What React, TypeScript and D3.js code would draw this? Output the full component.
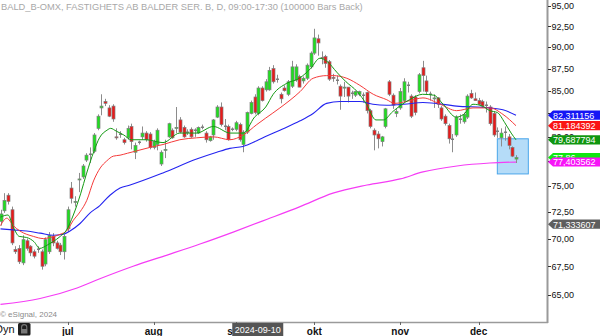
import React from "react";
import * as d3 from "d3";

// ---- data ----
const opens = [71.6,72.6,74.1,72.7,69.0,69.1,67.8,69.8,69.3,68.8,69.0,68.8,67.7,68.8,70.2,69.6,69.4,68.8,70.9,74.8,73.4,75.6,75.9,77.6,78.2,78.5,80.9,83.1,83.8,83.1,83.3,80.0,80.3,79.7,79.9,81.1,78.4,79.4,80.0,80.4,80.3,78.9,79.2,77.2,78.6,80.0,80.7,80.9,81.8,81.0,80.5,80.8,80.7,80.4,81.0,80.4,79.6,80.2,82.1,83.2,81.1,81.1,80.8,80.8,81.3,79.2,80.5,82.5,84.3,82.5,85.3,85.1,85.1,87.5,86.3,84.6,85.3,84.6,85.5,86.2,86.6,86.1,86.4,87.7,89.3,91.0,88.8,88.9,88.3,86.5,86.2,85.5,85.3,85.4,84.7,84.5,84.6,84.5,84.8,82.8,80.7,80.3,79.5,81.1,86.0,84.5,82.5,83.1,83.9,85.6,84.4,84.3,84.9,87.6,86.1,84.6,84.1,84.2,83.1,82.2,81.2,79.7,80.2,81.9,81.6,82.1,84.7,84.1,83.9,83.8,83.4,83.2,82.5,80.6,79.9,80.5,80.0,78.9,77.7];
const highs = [72.7,74.3,74.3,73.0,69.3,69.4,70.3,70.0,69.4,69.0,69.3,69.0,70.1,70.6,70.5,69.8,69.6,70.4,73.0,75.4,74.0,76.3,77.2,78.3,78.9,80.4,82.4,84.6,84.1,83.4,83.5,80.9,80.6,79.9,81.2,81.4,79.4,79.6,81.1,80.6,80.5,79.7,80.9,78.6,79.7,81.5,80.9,83.2,82.1,81.2,80.8,81.0,80.9,81.1,81.3,80.6,80.1,81.9,83.4,83.7,81.9,81.3,81.0,81.7,81.5,80.7,82.7,83.9,84.6,85.5,85.5,86.3,87.7,87.9,86.8,84.8,85.6,86.2,88.4,88.0,86.8,86.6,88.1,89.5,92.2,91.5,89.5,89.1,88.5,86.9,86.7,85.7,86.0,85.4,85.0,85.0,85.0,84.8,84.9,83.0,80.9,80.6,80.1,83.1,86.2,84.7,83.0,85.3,86.4,86.0,84.6,84.5,87.0,88.4,86.7,84.9,84.6,84.3,83.3,82.4,81.4,80.3,82.3,82.4,82.6,84.6,85.1,84.8,84.2,84.0,83.8,83.4,82.7,81.0,80.9,81.1,80.3,79.0,78.1];
const lows = [71.2,72.4,73.2,69.4,68.6,67.7,67.6,68.9,68.4,68.2,68.7,67.2,67.5,68.6,69.3,69.0,68.5,68.1,70.6,73.3,73.0,74.4,75.7,77.4,77.3,78.3,80.7,82.3,83.3,82.1,81.6,79.7,79.9,79.2,79.7,78.7,77.7,79.2,79.7,79.5,78.7,78.7,78.6,77.0,77.8,79.9,79.8,80.4,80.4,79.9,80.2,79.9,80.0,80.3,80.8,79.4,79.5,79.7,82.0,81.1,80.7,79.6,80.6,80.6,79.5,78.4,80.3,82.4,82.4,82.3,83.8,84.9,85.0,85.8,85.9,83.6,84.9,84.4,85.3,86.0,85.4,85.8,86.2,87.5,89.1,89.0,88.0,87.6,86.1,86.0,85.7,82.9,84.3,83.7,84.1,84.3,84.4,83.7,82.5,80.9,78.6,78.8,79.0,80.9,84.4,83.0,82.1,82.9,83.7,84.8,82.0,82.3,84.7,84.9,84.6,83.9,83.1,83.1,81.7,81.2,79.3,78.4,80.0,81.4,81.4,81.9,84.1,83.9,83.4,83.1,82.6,81.2,80.0,79.9,79.0,79.6,78.7,77.9,77.3];
const closes = [72.3,73.6,73.5,69.6,68.8,67.9,69.9,69.1,68.7,68.4,69.05,67.5,69.9,70.3,69.6,69.1,68.8,70.2,72.7,73.8,73.5,75.7,77.0,78.1,78.25,80.2,82.2,83.3,83.6,82.2,81.9,79.9,80.3,79.4,80.9,79.5,79.1,79.45,80.4,79.7,78.9,79.5,80.7,78.4,78.7,81.4,79.9,81.0,80.5,80.0,80.55,80.0,80.75,81.0,81.05,79.7,80.0,81.8,83.2,81.3,81.15,79.7,80.85,81.5,79.7,80.5,82.6,83.7,82.6,85.3,83.9,86.0,87.3,86.0,86.35,84.1,85.0,86.0,87.7,87.7,85.4,86.4,87.9,89.3,91.1,90.5,88.7,88.1,86.3,86.4,86.15,84.4,85.4,84.4,84.75,84.9,84.9,84.45,82.8,81.1,80.2,79.8,80.0,83.0,84.6,83.4,82.7,84.9,86.0,85.65,82.2,82.6,86.8,86.7,84.9,84.55,84.2,83.5,81.9,81.4,79.8,79.75,82.1,81.95,82.4,84.4,84.2,83.9,83.5,83.3,83.4,81.4,80.2,80.55,80.4,80.45,79.1,78.0,77.86];

// moving averages, read as knots (bar index, value)
const greenBars = [0,2,3.5,5,7,9,10.5,12.5,14,16,17.5,19.5,21.5,23,25,26.5,28.5,29.5,31,33,35,39,43.5,48,52.5,57,61.5,65,68,71,73,76.5,80,83,85.5,87.5,90,92.5,95.5,98,100.5,102.5,105,109.5,113,116,118.5,122,124,126.5,129,131,133,135,136.7,138];
const greenVals = [72.0,72.2,71.0,70.2,70.1,69.7,69.1,69.4,69.7,70.2,70.7,72.2,74.3,76.2,78.5,79.9,80.7,80.9,80.6,80.2,79.7,79.7,79.4,80.4,80.4,81.1,80.4,80.4,82.1,83.2,84.6,85.8,86.4,87.5,88.7,88.3,87.1,86.0,84.9,83.5,81.8,81.8,82.7,84.0,84.6,84.5,83.5,82.1,82.4,83.5,83.3,82.8,82.6,81.5,80.4,79.69];
const redBars = [0,1.7,3.4,5.2,8.8,11.5,13.3,16,17.7,19.5,21.3,23.1,24.9,26.7,28.4,30.2,32,34,36,40,43.5,48,52.5,57,61.4,65,68.6,71,74.8,80.2,83.7,87.3,89,92.7,96.2,99.8,103.4,105.5,109.6,113.1,117.7,122.1,126.5,131,134.5,138];
const redVals = [71.2,71.9,71.2,70.7,70.2,70.0,70.1,70.4,70.7,71.7,72.5,73.6,75.5,76.8,77.5,78.0,78.1,78.3,78.5,78.9,79.2,79.7,79.9,80.0,79.7,80.2,81.3,82.0,83.1,84.9,86.4,86.7,86.7,86.4,85.6,84.6,84.0,83.6,83.9,84.2,83.5,82.8,83.1,83.1,82.4,81.18];
const blueBars = [0,3.4,7,10.6,14.1,16.8,18.6,21.3,24,26.6,29.3,32,34.7,43.5,52.5,57.9,61.4,64.9,68.6,70.8,74.8,80.2,83.7,87.3,90.9,96.2,99.7,103.4,108,113.1,122.1,131,134.5,138];
const blueVals = [70.9,70.8,70.7,70.5,70.3,70.4,70.7,71.4,72.4,73.1,74.1,74.8,75.1,76.3,77.7,78.4,78.8,79.0,79.6,80.0,80.7,81.7,82.5,83.6,83.8,83.8,83.5,83.4,83.5,83.7,83.3,83.1,82.9,82.31];
const magentaBars = [0,10.6,20.5,26.6,35.5,44.6,53.4,62.3,71.4,80.2,89,98.1,107,113.1,122.2,131,138];
const magentaVals = [64.2,64.7,65.6,66.4,67.5,68.5,69.5,70.6,71.8,73.0,74.3,75.1,75.7,76.4,77.0,77.3,77.4];

const priceTicks = [95, 92.5, 90, 87.5, 85, 82.5, 80, 77.5, 75, 72.5, 70, 67.5, 65];
const monthLabels = ["jul", "aug", "sep", "okt", "nov", "dec"];
const monthStartBars = [18, 41, 63, 84, 107, 128];
const cursorBar = 69;
const cursorLabel = "2024-09-10";
const selectionBars = [133, 141.3];
const selectionPrices = [79.8, 76.2];

const tagValues = [82.311156, 81.184392, 79.687794, 71.333607, 77.86, 77.403562];
const tagDecimals = [6, 6, 6, 6, 2, 6];
const tagColors = ["#1515f5", "#fa1414", "#0f960f", "#5e5e5e", "#10e810", "#f714f7"];

const title = "BALD_B-OMX, FASTIGHETS AB BALDER SER. B, D, 09:00-17:30 (100000 Bars Back)";

// ---- layout ----
const W = 600, H = 336;
const axisX = 548, axisY = 322;
const FONT = "'Liberation Sans', Arial, sans-serif";

const fmt = (v: number, d: number) => v.toFixed(d).replace(".", ",");

export default function App() {
  const x = d3.scaleLinear().domain([0, 138]).range([0.5, 516]);
  const y = d3.scaleLog().domain([65, 95]).range([295, 6]);

  const maLine = (bars: number[], vals: number[]) =>
    d3.line<number>().x((_, i) => x(bars[i])).y((v) => y(v)).curve(d3.curveMonotoneX)(vals) || "";

  const candles = opens.map((o, i) => {
    const c = closes[i];
    const cx = Math.round(x(i));
    const doji = Math.abs(c - o) < 0.08;
    const top = y(Math.max(o, c));
    const bot = y(Math.min(o, c));
    const fill = c > o ? "#1fe01f" : "#ea1a1a";
    return (
      <g key={i}>
        <line x1={cx + 0.5} x2={cx + 0.5} y1={y(highs[i])} y2={y(lows[i])} stroke="#8c8c8c" strokeWidth={1} />
        {doji ? (
          <rect x={cx - 1} y={Math.round(top) - 0.5} width={3} height={1.5} fill="#7c7c7c" />
        ) : (
          <rect x={cx - 1} y={top} width={3} height={Math.max(1, bot - top)} fill={fill} stroke="#7f7f7f" strokeWidth={0.7} />
        )}
      </g>
    );
  });

  return (
    <svg width={W} height={H} style={{ position: "absolute", left: 0, top: 0, background: "#fff" }} fontFamily={FONT}>
      <rect width={W} height={H} fill="#fff" />
      <text x={1} y={10} fontSize={9.3} fill="#a8a8a8">{title}</text>

      {/* selection box */}
      <rect x={x(selectionBars[0])} y={y(selectionPrices[0])} width={x(selectionBars[1]) - x(selectionBars[0])}
        height={y(selectionPrices[1]) - y(selectionPrices[0])} fill="#b5dcf8" stroke="#4aa6ea" strokeWidth={1} />

      <g clipPath="url(#plotclip)">
        <defs>
          <clipPath id="plotclip"><rect x={0} y={0} width={axisX - 1} height={axisY} /></clipPath>
        </defs>
        <path d={maLine(magentaBars, magentaVals)} fill="none" stroke="#f53cf5" strokeWidth={1.2} />
        {candles}
        <path d={maLine(blueBars, blueVals)} fill="none" stroke="#2424f0" strokeWidth={1.1} />
        <path d={maLine(redBars, redVals)} fill="none" stroke="#f53a3a" strokeWidth={1} />
        <path d={maLine(greenBars, greenVals)} fill="none" stroke="#139a13" strokeWidth={1} />
      </g>

      <text x={0} y={317} fontSize={8} fill="#8a8a8a">© eSignal, 2024</text>

      {/* axes */}
      <line x1={0} x2={axisX} y1={axisY + 0.5} y2={axisY + 0.5} stroke="#9a9a9a" strokeWidth={1.3} />
      <line x1={axisX - 0.5} x2={axisX - 0.5} y1={0} y2={axisY + 1} stroke="#9a9a9a" strokeWidth={2} />
      {priceTicks.map((p) => (
        <g key={p}>
          <line x1={axisX} x2={axisX + 3} y1={Math.round(y(p)) + 0.5} y2={Math.round(y(p)) + 0.5} stroke="#333" />
          <text x={axisX + 3.5} y={y(p) + 3.3} fontSize={9} fill="#111">{fmt(p, 2)}</text>
        </g>
      ))}

      {tagValues.map((v, i) => {
        const cy = y(v);
        const pts = [[axisX, cy], [axisX + 5, cy - 4.6], [W, cy - 4.6], [W, cy + 4.6], [axisX + 5, cy + 4.6]]
          .map((p) => p.join(",")).join(" ");
        return (
          <g key={i}>
            <polygon points={pts} fill={tagColors[i]} />
            <text x={axisX + 5} y={cy + 3.4} fontSize={9} fill="#fff">{fmt(v, tagDecimals[i])}</text>
          </g>
        );
      })}

      {monthLabels.map((m, i) => {
        const mx = x(monthStartBars[i]);
        return (
          <g key={m}>
            <line x1={Math.round(mx) + 0.5} x2={Math.round(mx) + 0.5} y1={axisY} y2={axisY + 3} stroke="#666" />
            <text x={mx} y={335} fontSize={10} fontWeight="bold" textAnchor="middle" fill="#111">{m}</text>
          </g>
        );
      })}

      {/* cursor date */}
      <rect x={x(cursorBar) - 26} y={323} width={51} height={13} fill="#555" />
      <text x={x(cursorBar) - 0.5} y={333} fontSize={9} textAnchor="middle" fill="#fff">{cursorLabel}</text>

      <text x={-5} y={333} fontSize={11} fill="#111">Dyn</text>
      <rect x={18} y={323} width={12.5} height={12.5} rx={1.5} fill="#1e1e1e" />
      <path d="M21.6,329 v-1.8 a2.6,2.6 0 0 1 5.2,0 v1.8" fill="none" stroke="#777" strokeWidth={1.1} />
      <rect x={21} y={329} width={6.4} height={4.5} fill="#777" />
    </svg>
  );
}
